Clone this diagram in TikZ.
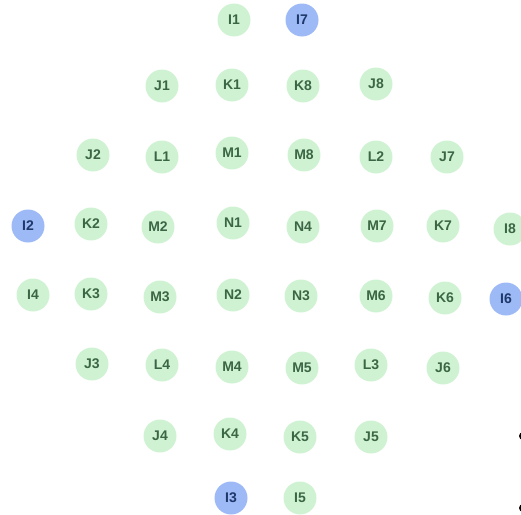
\documentclass[tikz,border=0pt]{standalone}
\usepackage{fontspec}
\setmainfont{Liberation Sans}
\usepackage{xcolor}
\definecolor{leaf}{HTML}{CFF3D2}
\definecolor{leaftext}{HTML}{3B6645}
\definecolor{sky}{HTML}{9DB9F6}
\definecolor{skytext}{HTML}{1E3869}
\tikzset{
  seat/.style={circle, fill=leaf, text=leaftext, minimum size=33pt,
               inner sep=0pt, font=\fontsize{14}{14}\selectfont\bfseries},
  hub/.style={seat, fill=sky, text=skytext},
  pip/.style={circle, fill=black, minimum size=8pt, inner sep=0pt}
}
\begin{document}
\begin{tikzpicture}[x=1pt,y=-1pt]
    \useasboundingbox (0,0) rectangle (521,514);
    % top row
    \node[seat] (I1) at (234,20) {I1};
    \node[hub]  (I7) at (302,20) {I7};
    % ring 1
    \node[seat] (J1) at (162,86) {J1};
    \node[seat] (K1) at (232,85) {K1};
    \node[seat] (K8) at (303,86) {K8};
    \node[seat] (J8) at (376,84) {J8};
    % ring 2
    \node[seat] (J2) at (93,155) {J2};
    \node[seat] (L1) at (162,157) {L1};
    \node[seat] (M1) at (232,153) {M1};
    \node[seat] (M8) at (304,155) {M8};
    \node[seat] (L2) at (376,157) {L2};
    \node[seat] (J7) at (447,157) {J7};
    % middle rows
    \node[hub]  (I2) at (28,226) {I2};
    \node[seat] (K2) at (91,224) {K2};
    \node[seat] (M2) at (158,227) {M2};
    \node[seat] (N1) at (233,223) {N1};
    \node[seat] (N4) at (303,227) {N4};
    \node[seat] (M7) at (377,226) {M7};
    \node[seat] (K7) at (443,226) {K7};
    \node[seat] (I8) at (510,229) {I8};
    \node[seat] (I4) at (33,295) {I4};
    \node[seat] (K3) at (91,294) {K3};
    \node[seat] (M3) at (160,297) {M3};
    \node[seat] (N2) at (233,295) {N2};
    \node[seat] (N3) at (301,296) {N3};
    \node[seat] (M6) at (376,296) {M6};
    \node[seat] (K6) at (445,298) {K6};
    \node[hub]  (I6) at (506,299) {I6};
    % lower rings
    \node[seat] (J3) at (92,364) {J3};
    \node[seat] (L4) at (162,365) {L4};
    \node[seat] (M4) at (232,367) {M4};
    \node[seat] (M5) at (302,368) {M5};
    \node[seat] (L3) at (371,365) {L3};
    \node[seat] (J6) at (443,368) {J6};
    \node[seat] (J4) at (160,436) {J4};
    \node[seat] (K4) at (230,434) {K4};
    \node[seat] (K5) at (300,437) {K5};
    \node[seat] (J5) at (371,437) {J5};
    % bottom row
    \node[hub]  (I3) at (231,498) {I3};
    \node[seat] (I5) at (300,498) {I5};
    % edge dots
    \node[pip] (dotA) at (523,436) {};
    \node[pip] (dotB) at (523,508) {};
\end{tikzpicture}
\end{document}
